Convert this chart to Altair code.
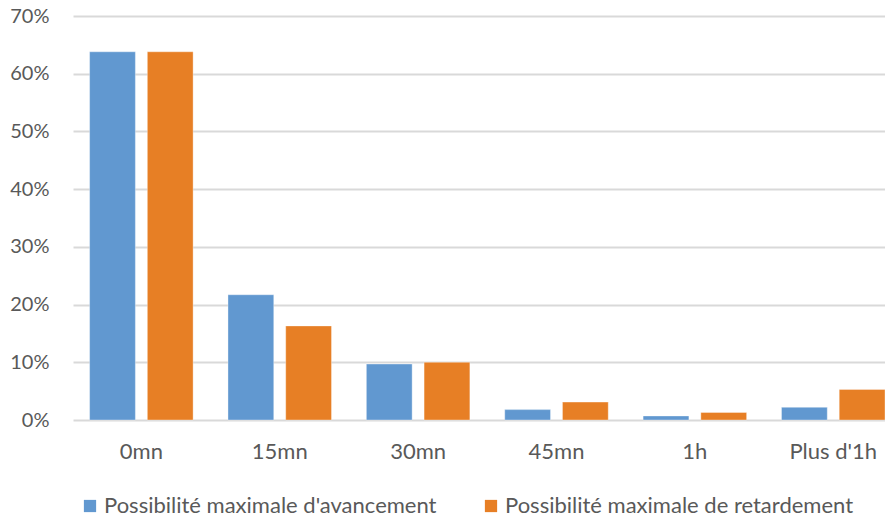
import altair as alt
import pandas as pd

categories = ["0mn", "15mn", "30mn", "45mn", "1h", "Plus d'1h"]
series = ["Possibilité maximale d'avancement", "Possibilité maximale de retardement"]
avancement = [0.638, 0.217, 0.097, 0.018, 0.007, 0.022]
retardement = [0.638, 0.163, 0.100, 0.031, 0.013, 0.053]
colors = ["#6198d0", "#e77f25"]

rows = []
for c, a, r in zip(categories, avancement, retardement):
    rows.append({"cat": c, "serie": series[0], "val": a})
    rows.append({"cat": c, "serie": series[1], "val": r})
df = pd.DataFrame(rows)

FONT = "Lato"
GRAY = "#595959"

chart = alt.Chart(df).mark_bar(stroke="white", strokeOpacity=0.35, strokeWidth=1).encode(
    x=alt.X("cat:N", sort=categories, title=None,
            scale=alt.Scale(paddingInner=0.252, paddingOuter=0.06, align=1),
            axis=alt.Axis(labelAngle=0, labelFont=FONT, labelFontSize=22, labelColor=GRAY,
                          labelPadding=21, ticks=False, domain=False)),
    xOffset=alt.XOffset("serie:N", sort=series,
                        scale=alt.Scale(paddingInner=0.207, paddingOuter=0)),
    y=alt.Y("val:Q", title=None,
            scale=alt.Scale(domain=[0, 0.7]),
            axis=alt.Axis(format=".0%", values=[0, 0.1, 0.2, 0.3, 0.4, 0.5, 0.6, 0.7],
                          labelFont=FONT, labelFontSize=20, labelColor=GRAY,
                          labelPadding=24, ticks=False, domain=False,
                          grid=True, gridColor="#d9d9d9", gridWidth=2)),
    color=alt.Color("serie:N", sort=series,
                    scale=alt.Scale(domain=series, range=colors),
                    legend=alt.Legend(title=None, orient="none", legendX=6, legendY=479,
                                      direction="horizontal", columns=2, columnPadding=43,
                                      symbolType="square", symbolSize=150, symbolStrokeWidth=0,
                                      labelFont=FONT, labelFontSize=22, labelColor=GRAY,
                                      labelOffset=3, labelLimit=500)),
).properties(
    width=812, height=404,
    autosize=alt.AutoSizeParams(type="none"),
    padding={"left": 65, "top": 8, "right": 0, "bottom": 95},
).configure_view(stroke=None)

chart.save("out.html", embed_options={"renderer": "svg", "actions": False})
